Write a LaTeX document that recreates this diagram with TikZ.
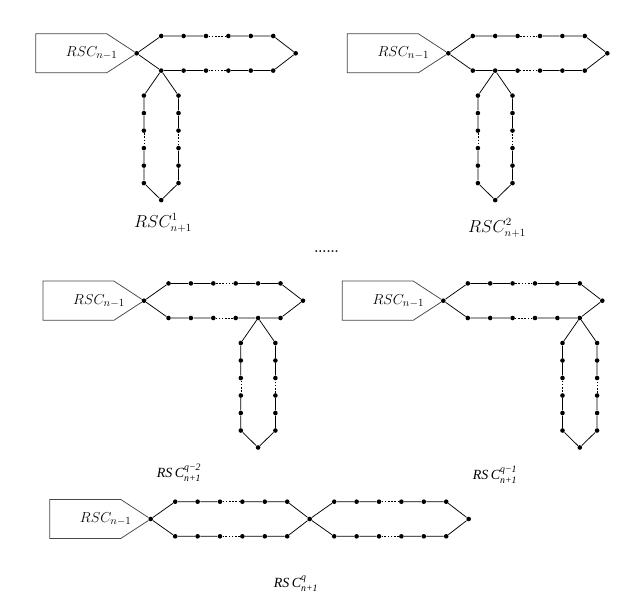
\documentclass[tikz,border=0pt]{standalone}
\usepackage{amsmath}
\usepackage{fontspec}
\usepackage{tikz}
\usetikzlibrary{calc}
\newfontfamily\timesfont{Liberation Serif}

\tikzset{
  vtx/.style={circle,fill=black,inner sep=0pt,minimum size=4.6pt},
  gap/.style={dash pattern=on 1.6pt off 1.6pt,line width=0.5pt},
  block/.style={draw=black!72,line width=0.75pt},
  inlabel/.style={font=\fontsize{15}{17}\selectfont},
  caplabel/.style={font=\fontsize{16}{18}\selectfont},
  timeslabel/.style={font=\fontsize{14}{16}\selectfont\timesfont\itshape}
}

\newcommand{\rscblock}[2]{%
  \draw[block] (#1) -- ($(#1)+(-30,-19.6)$) -- ($(#1)+(-101,-19.6)$)
    -- ($(#1)+(-101,19.5)$) -- ($(#1)+(-30,19.5)$) -- (#1);
  \node[inlabel] (#2in) at ($(#1)+(-45,0)$) {$RSC_{n-1}$};
}

\newcommand{\hcycle}[2]{%
  \foreach \k in {1,...,6} {
    \node[vtx] (#2t\k) at ($(#1)+({24.5+22.4*(\k-1)},-17.3)$) {};
    \node[vtx] (#2b\k) at ($(#1)+({24.5+22.4*(\k-1)},17.3)$) {};
  }
  \node[vtx] (#2e) at ($(#1)+(159,0)$) {};
  \draw (#1) -- (#2t1) -- (#2t2) -- (#2t3);
  \draw[gap] (#2t3) -- (#2t4);
  \draw (#2t4) -- (#2t5) -- (#2t6) -- (#2e) -- (#2b6) -- (#2b5) -- (#2b4);
  \draw[gap] (#2b4) -- (#2b3);
  \draw (#2b3) -- (#2b2) -- (#2b1) -- (#1);
}

\newcommand{\vcycle}[2]{%
  \foreach \k in {1,...,6} {
    \node[vtx] (#2l\k) at ($(#1)+(-17.3,{25+17.5*(\k-1)})$) {};
    \node[vtx] (#2r\k) at ($(#1)+(17.3,{25+17.5*(\k-1)})$) {};
  }
  \node[vtx] (#2e) at ($(#1)+(0,129.5)$) {};
  \draw (#1) -- (#2l1) -- (#2l2) -- (#2l3);
  \draw[gap] (#2l3) -- (#2l4);
  \draw (#2l4) -- (#2l5) -- (#2l6) -- (#2e) -- (#2r6) -- (#2r5) -- (#2r4);
  \draw[gap] (#2r4) -- (#2r3);
  \draw (#2r3) -- (#2r2) -- (#2r1) -- (#1);
}

\begin{document}
\begin{tikzpicture}[x=1pt,y=-1pt,line width=0.75pt]
\useasboundingbox (0,0) rectangle (640,598);

\node[vtx] (av) at (136.7,53.3) {};
\rscblock{av}{a}
\hcycle{av}{ah}
\vcycle{ahb1}{ad}
\node[caplabel] (acap) at (163,223) {$RSC^1_{n+1}$};

\node[vtx] (bv) at (448.3,53.3) {};
\rscblock{bv}{b}
\hcycle{bv}{bh}
\vcycle{bhb2}{bd}
\node[caplabel] (bcap) at (497,228) {$RSC^2_{n+1}$};

\node[font=\fontsize{13}{15}\selectfont\bfseries,anchor=base] (more) at (326.5,252) {......};

\node[vtx] (cv) at (144,300.7) {};
\rscblock{cv}{c}
\hcycle{cv}{ch}
\vcycle{chb5}{cd}
\node[timeslabel] (ccap) at (179,473) {RS\,C$^{\text{q−2}}_{\text{n+1}}$};

\node[vtx] (dv) at (443.3,300.7) {};
\rscblock{dv}{d}
\hcycle{dv}{dh}
\vcycle{dhb6}{dd}
\node[timeslabel] (dcap) at (495,475) {RS\,C$^{\text{q−1}}_{\text{n+1}}$};

\node[vtx] (ev) at (150.7,519) {};
\rscblock{ev}{e}
\hcycle{ev}{eh}
\hcycle{ehe}{ek}
\node[timeslabel] (ecap) at (296,584) {RS\,C$^{\text{q}}_{\text{n+1}}$};
\end{tikzpicture}
\end{document}
